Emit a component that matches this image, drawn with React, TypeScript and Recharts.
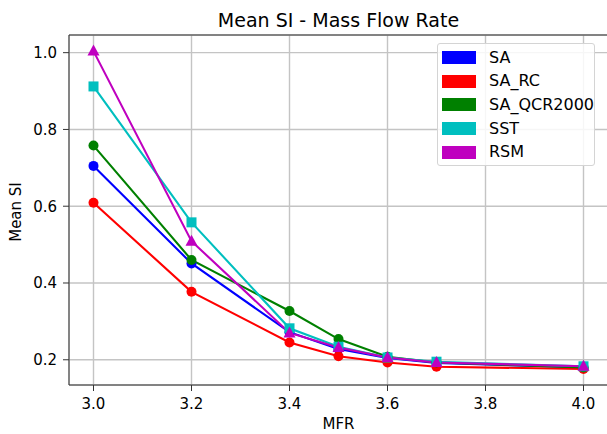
import React from 'react';
import { LineChart, Line, XAxis, YAxis, CartesianGrid, Legend, ReferenceLine } from 'recharts';

const mfr = [3.0, 3.2, 3.4, 3.5, 3.6, 3.7, 4.0];
const sa = [0.705, 0.451, 0.272, 0.228, 0.205, 0.192, 0.18];
const saRc = [0.609, 0.377, 0.245, 0.209, 0.193, 0.182, 0.176];
const saQcr = [0.758, 0.46, 0.327, 0.254, 0.208, 0.193, 0.18];
const sst = [0.912, 0.558, 0.282, 0.234, 0.206, 0.195, 0.183];
const rsm = [1.004, 0.509, 0.27, 0.232, 0.206, 0.193, 0.183];

const xTicks = [3.0, 3.2, 3.4, 3.6, 3.8, 4.0];
const yTicks = [0.2, 0.4, 0.6, 0.8, 1.0];
const xDomain = [2.95, 4.05];
const yDomain = [0.1343, 1.046];

const data = mfr.map((m, i) => ({
  mfr: m,
  SA: sa[i],
  SA_RC: saRc[i],
  SA_QCR2000: saQcr[i],
  SST: sst[i],
  RSM: rsm[i],
}));

const series = [
  { key: 'SA', color: '#0000ff', marker: 'circle' },
  { key: 'SA_RC', color: '#ff0000', marker: 'circle' },
  { key: 'SA_QCR2000', color: '#008000', marker: 'circle' },
  { key: 'SST', color: '#00bfbf', marker: 'square' },
  { key: 'RSM', color: '#bf00bf', marker: 'triangle' },
];

const FONT = '"DejaVu Sans", sans-serif';
const SPINE = '#333';

const makeDot = (color: string, marker: string) => (props: any) => {
  const { cx, cy, index } = props;
  if (cx == null || cy == null) return <g key={index} />;
  if (marker === 'square') {
    return <rect key={index} x={cx - 5} y={cy - 5} width={10} height={10} fill={color} />;
  }
  if (marker === 'triangle') {
    return (
      <polygon
        key={index}
        points={`${cx},${cy - 6.5} ${cx - 6},${cy + 4.5} ${cx + 6},${cy + 4.5}`}
        fill={color}
      />
    );
  }
  return <circle key={index} cx={cx} cy={cy} r={5} fill={color} />;
};

const LegendBox = () => (
  <div
    style={{
      boxSizing: 'border-box',
      width: 158,
      height: 123,
      background: 'rgba(255,255,255,0.85)',
      border: '1px solid #d4d4d4',
      borderRadius: 3,
      padding: '2px 0 0 4px',
      fontFamily: FONT,
      fontSize: 16,
      color: '#000',
    }}
  >
    {series.map((s) => (
      <div key={s.key} style={{ display: 'flex', alignItems: 'center', height: 23.6 }}>
        <span style={{ display: 'inline-block', width: 34, height: 13, background: s.color }} />
        <span style={{ marginLeft: 13, lineHeight: '16px' }}>{s.key}</span>
      </div>
    ))}
  </div>
);

const App: React.FC = () => {
  return (
    <div style={{ position: 'absolute', left: 0, top: 0, width: 607, height: 434, overflow: 'hidden', background: '#fff' }}>
      <LineChart width={612} height={434} data={data} margin={{ top: 35, right: 4, bottom: 0, left: 0 }}>
        <CartesianGrid stroke="#c4c4c4" strokeWidth={1.4} />
        <ReferenceLine y={yDomain[1]} stroke={SPINE} strokeWidth={1} />
        <XAxis
          dataKey="mfr"
          type="number"
          domain={xDomain}
          ticks={xTicks}
          allowDataOverflow
          height={49}
          stroke={SPINE}
          tickSize={6}
          tickMargin={7}
          tickFormatter={(v: number) => v.toFixed(1)}
          tick={{ fill: '#000', fontSize: 15, fontFamily: FONT }}
          label={{
            content: (p: any) => (
              <text x={p.viewBox.x + p.viewBox.width / 2} y={429} textAnchor="middle" fontSize={15} fontFamily={FONT} fill="#000">
                MFR
              </text>
            ),
          }}
        />
        <YAxis
          type="number"
          domain={yDomain}
          ticks={yTicks}
          allowDataOverflow
          width={69}
          stroke={SPINE}
          tickSize={6}
          tickMargin={6}
          tickFormatter={(v: number) => v.toFixed(1)}
          tick={{ fill: '#000', fontSize: 15, fontFamily: FONT }}
          label={{
            content: (p: any) => {
              const cy = p.viewBox.y + p.viewBox.height / 2 + 2;
              return (
                <g>
                  <text x={21} y={cy} transform={`rotate(-90 21 ${cy})`} textAnchor="middle" fontSize={15} fontFamily={FONT} fill="#000">
                    Mean SI
                  </text>
                  <text x={338.5} y={27} textAnchor="middle" fontSize={19} fontFamily={FONT} fill="#000">
                    Mean SI - Mass Flow Rate
                  </text>
                </g>
              );
            },
          }}
        />
        <Legend
          layout="vertical"
          align="center"
          verticalAlign="middle"
          content={() => <LegendBox />}
          wrapperStyle={{ position: 'absolute', left: 437, top: 43, width: 158 }}
        />
        {series.map((s) => (
          <Line
            key={s.key}
            dataKey={s.key}
            stroke={s.color}
            strokeWidth={2.1}
            dot={makeDot(s.color, s.marker)}
            activeDot={false}
            isAnimationActive={false}
            type="linear"
          />
        ))}
      </LineChart>
    </div>
  );
};

export default App;
